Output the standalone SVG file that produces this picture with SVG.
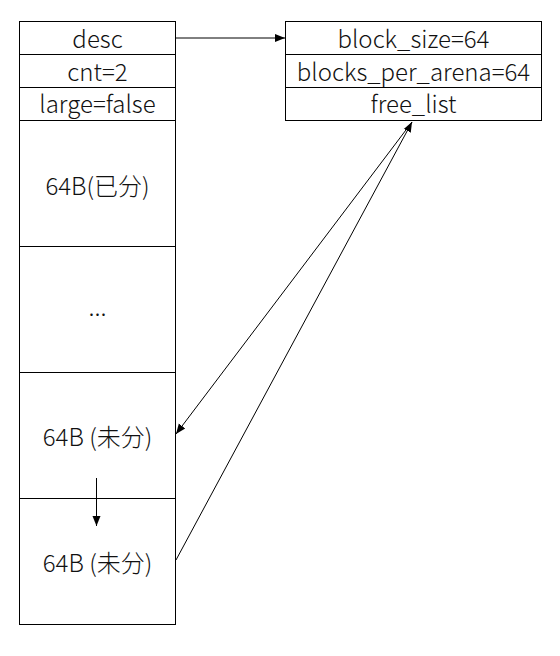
<svg xmlns="http://www.w3.org/2000/svg" width="560" height="656" viewBox="0 0 560 656">
<style>
.box{fill:#fff;stroke:#000;stroke-width:1}
.t{font-family:"Noto Sans CJK SC","Noto Sans",sans-serif;font-size:24px;font-weight:300;fill:#111;text-anchor:middle;dominant-baseline:central}
.c{stroke:#000;stroke-width:1;fill:none;marker-end:url(#ah)}
</style>
<defs>
<marker id="ah" viewBox="0 0 10 10" refX="10" refY="5" markerWidth="10" markerHeight="10" markerUnits="userSpaceOnUse" orient="auto">
<path d="M0,1 L10,5 L0,9 z" fill="#000"/>
</marker>
</defs>
<rect width="560" height="656" fill="#fff"/>
<g id="arena">
<rect class="box" x="19.5" y="21.5" width="156" height="33"/>
<text class="t" x="97.5" y="37">desc</text>
<rect class="box" x="19.5" y="54.5" width="156" height="33"/>
<text class="t" x="97.5" y="70">cnt=2</text>
<rect class="box" x="19.5" y="87.5" width="156" height="33"/>
<text class="t" x="97.5" y="102">large=false</text>
<rect class="box" x="19.5" y="120.5" width="156" height="126"/>
<text class="t" x="97.5" y="184">64B(已分)</text>
<rect class="box" x="19.5" y="246.5" width="156" height="126"/>
<text class="t" x="97.5" y="305">...</text>
<rect class="box" x="19.5" y="372.5" width="156" height="126"/>
<text class="t" x="97.5" y="435">64B (未分)</text>
<rect class="box" x="19.5" y="498.5" width="156" height="126"/>
<text class="t" x="97.5" y="561">64B (未分)</text>
</g>
<g id="desc">
<rect class="box" x="285.5" y="21.5" width="256" height="33"/>
<text class="t" x="413.5" y="37">block_size=64</text>
<rect class="box" x="285.5" y="54.5" width="256" height="33"/>
<text class="t" x="413.5" y="70">blocks_per_arena=64</text>
<rect class="box" x="285.5" y="87.5" width="256" height="33"/>
<text class="t" x="413.5" y="102">free_list</text>
</g>
<g id="connectors">
<line class="c" x1="175.5" y1="38" x2="285" y2="38"/>
<line class="c" x1="412" y1="122" x2="176" y2="434"/>
<line class="c" x1="176" y1="560" x2="412" y2="122"/>
<line class="c" x1="96.5" y1="478" x2="96.5" y2="526"/>
</g>
</svg>
